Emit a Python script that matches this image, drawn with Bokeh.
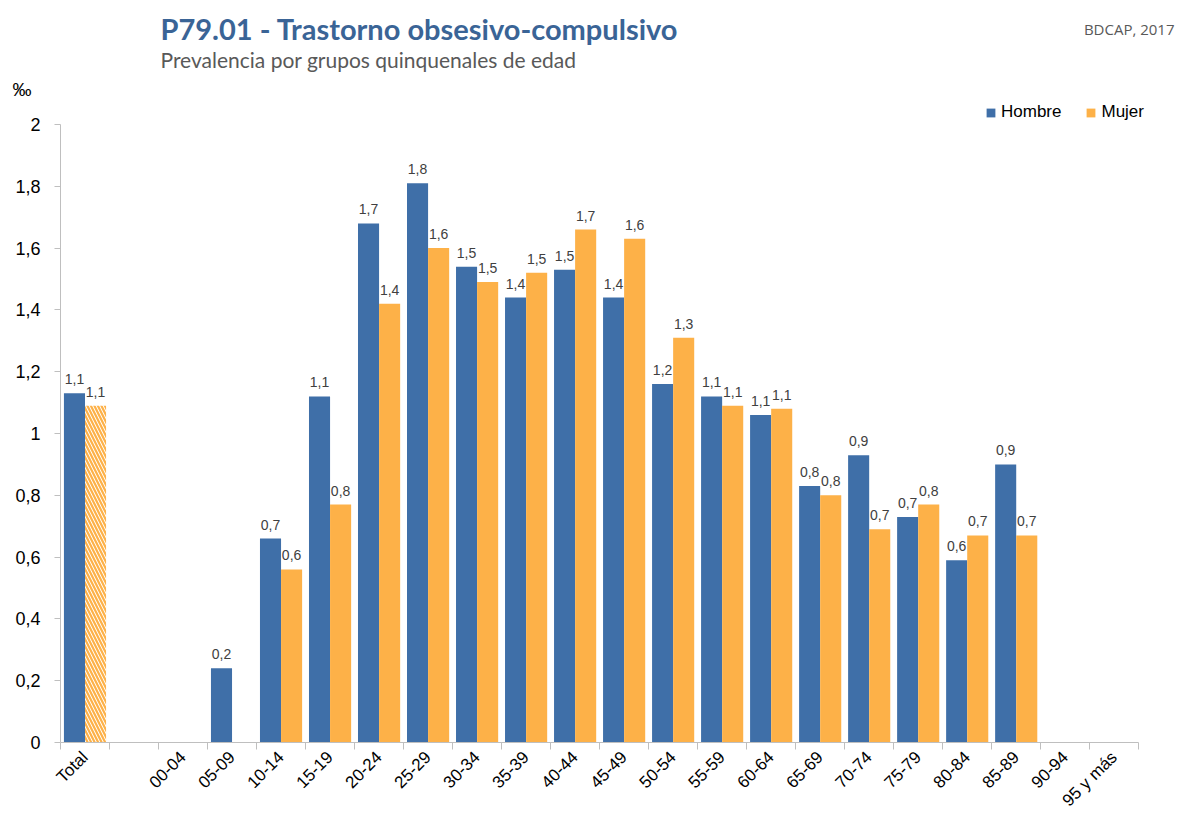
from bokeh.plotting import figure
from bokeh.layouts import column
from bokeh.models import (Range1d, FixedTicker, LinearAxis, ColumnDataSource, LabelSet,
                          Legend, LegendItem, CustomJSTickFormatter, Title)
from bokeh.core.properties import value
from bokeh.embed import file_html
from bokeh.resources import INLINE
from math import pi

categories = ["Total", " ", "00-04", "05-09", "10-14", "15-19", "20-24", "25-29", "30-34",
              "35-39", "40-44", "45-49", "50-54", "55-59", "60-64", "65-69", "70-74",
              "75-79", "80-84", "85-89", "90-94", "95 y más"]
hombre = [1.13, None, None, 0.24, 0.66, 1.12, 1.68, 1.81, 1.54, 1.44, 1.53, 1.44, 1.16,
          1.12, 1.06, 0.83, 0.93, 0.73, 0.59, 0.90, None, None]
mujer = [1.09, None, None, None, 0.56, 0.77, 1.42, 1.60, 1.49, 1.52, 1.66, 1.63, 1.31,
         1.09, 1.08, 0.80, 0.69, 0.77, 0.67, 0.67, None, None]
y_ticks = [0, 0.2, 0.4, 0.6, 0.8, 1, 1.2, 1.4, 1.6, 1.8, 2]
title = "P79.01 - Trastorno obsesivo-compulsivo"
subtitle = "Prevalencia por grupos quinquenales de edad"
source_note = "BDCAP, 2017"
unit = "‰"

BLUE = "#3F6FA8"
ORANGE = "#FDB148"
BW = 0.43
LEFT = 60
PX_PER_CAT = 49
PX_PER_UNIT = 309

def fmt(v):
    return f"{v:.1f}".replace(".", ",")

def build(vals, side, skip_total=False):
    xs, tops, labels = [], [], []
    for i, v in enumerate(vals):
        if v is None:
            continue
        if skip_total and categories[i] == "Total":
            continue
        xs.append(i + 0.5 + side * BW / 2)
        tops.append(v)
        labels.append(fmt(v))
    return ColumnDataSource(dict(x=xs, top=tops, label=labels))

n = len(categories)
x_end = n + 0.75
FW = int(round(x_end * PX_PER_CAT))

# ---------- header (frame aligned with the chart frame; x data = page pixels) ----------
HEAD_H = 75
h = figure(frame_width=FW, frame_height=HEAD_H, output_backend="svg", toolbar_location=None,
           x_range=Range1d(LEFT, LEFT + FW), y_range=Range1d(0, HEAD_H),
           x_axis_type=None, y_axis_type=None,
           min_border_left=LEFT, min_border_right=0, min_border_top=0, min_border_bottom=0)
h.outline_line_color = None
h.xgrid.visible = False
h.ygrid.visible = False
h.text(x=[160], y=[HEAD_H - 28], text=[title], text_font=value("Lato"),
       text_font_style="bold", text_font_size="29px", text_color="#3A6496",
       text_baseline="middle")
h.text(x=[160], y=[HEAD_H - 59], text=[subtitle], text_font=value("Lato"),
       text_font_size="21px", text_color="#595959", text_baseline="middle")
h.text(x=[LEFT + FW - 1], y=[HEAD_H - 28], text=[source_note], text_font=value("Open Sans"),
       text_font_size="15px", text_color="#595959", text_align="right",
       text_baseline="middle")

# ---------- main chart ----------
src_h = build(hombre, -1)
src_m = build(mujer, 1, skip_total=True)
ti = categories.index("Total")
src_mt = ColumnDataSource(dict(x=[ti + 0.5 + BW / 2], top=[mujer[ti]], label=[fmt(mujer[ti])]))

y_end = 2 + 24 / PX_PER_UNIT
p = figure(frame_width=FW, frame_height=int(round(y_end * PX_PER_UNIT)),
           output_backend="svg", toolbar_location=None,
           x_range=Range1d(0, x_end), y_range=Range1d(0, y_end),
           x_axis_type=None, y_axis_type=None,
           min_border_left=LEFT, min_border_right=0, min_border_top=0, min_border_bottom=10)
p.outline_line_color = None
p.xgrid.visible = False
p.ygrid.visible = False

p.add_layout(Title(text=unit, align="left", offset=-48, standoff=2,
                   text_font="Liberation Sans", text_font_size="19px",
                   text_font_style="normal", text_color="#000000"), "above")

r_h = p.vbar(x="x", top="top", width=BW, source=src_h, fill_color=BLUE, line_color=None)
r_m = p.vbar(x="x", top="top", width=BW, source=src_m, fill_color=ORANGE, line_color=None)
p.vbar(x="x", top="top", width=BW, source=src_mt, fill_color="white", line_color=None,
       hatch_pattern="\\", hatch_color=ORANGE, hatch_scale=7, hatch_weight=2.2)

for s in (src_h, src_m, src_mt):
    p.add_layout(LabelSet(x="x", y="top", text="label", source=s, y_offset=9,
                          text_align="center", text_baseline="bottom",
                          text_font=value("Liberation Sans"), text_font_size=value("14px"),
                          text_color="#404040"))

yax = LinearAxis(ticker=FixedTicker(ticks=y_ticks), bounds=(0, 2),
                 formatter=CustomJSTickFormatter(code="return tick.toFixed(1).replace('.', ',').replace(/,0$/, '');"))
yax.axis_line_color = "#BFBFBF"
yax.major_tick_line_color = "#BFBFBF"
yax.major_tick_out = 6
yax.major_tick_in = 0
yax.minor_tick_line_color = None
yax.major_label_text_font = "Liberation Sans"
yax.major_label_text_font_size = "18px"
yax.major_label_text_color = "#000000"
yax.major_label_standoff = 14
p.add_layout(yax, "left")

centers = [i + 0.5 for i in range(n)]
xax = LinearAxis(ticker=FixedTicker(ticks=centers, minor_ticks=list(range(n + 1))), bounds=(0, n))
xax.major_label_overrides = {c: lab for c, lab in zip(centers, categories)}
xax.axis_line_color = "#BFBFBF"
xax.major_tick_line_color = None
xax.minor_tick_line_color = "#BFBFBF"
xax.minor_tick_out = 7
xax.minor_tick_in = 0
xax.major_label_orientation = pi / 4
xax.major_label_text_font = "Liberation Sans"
xax.major_label_text_font_size = "17px"
xax.major_label_text_color = "#000000"
xax.major_label_standoff = 5
p.add_layout(xax, "below")

legend = Legend(items=[LegendItem(label="Hombre", renderers=[r_h]),
                       LegendItem(label="Mujer", renderers=[r_m])],
                location=(925, 620), orientation="horizontal",
                glyph_width=11, glyph_height=11, label_standoff=5, spacing=24,
                padding=0, margin=0, border_line_color=None, background_fill_alpha=0,
                label_text_font="Liberation Sans", label_text_font_size="17px",
                label_text_color="#000000")
p.add_layout(legend, "center")

layout = column(h, p, spacing=0)
open("out.html", "w").write(file_html(layout, INLINE))
